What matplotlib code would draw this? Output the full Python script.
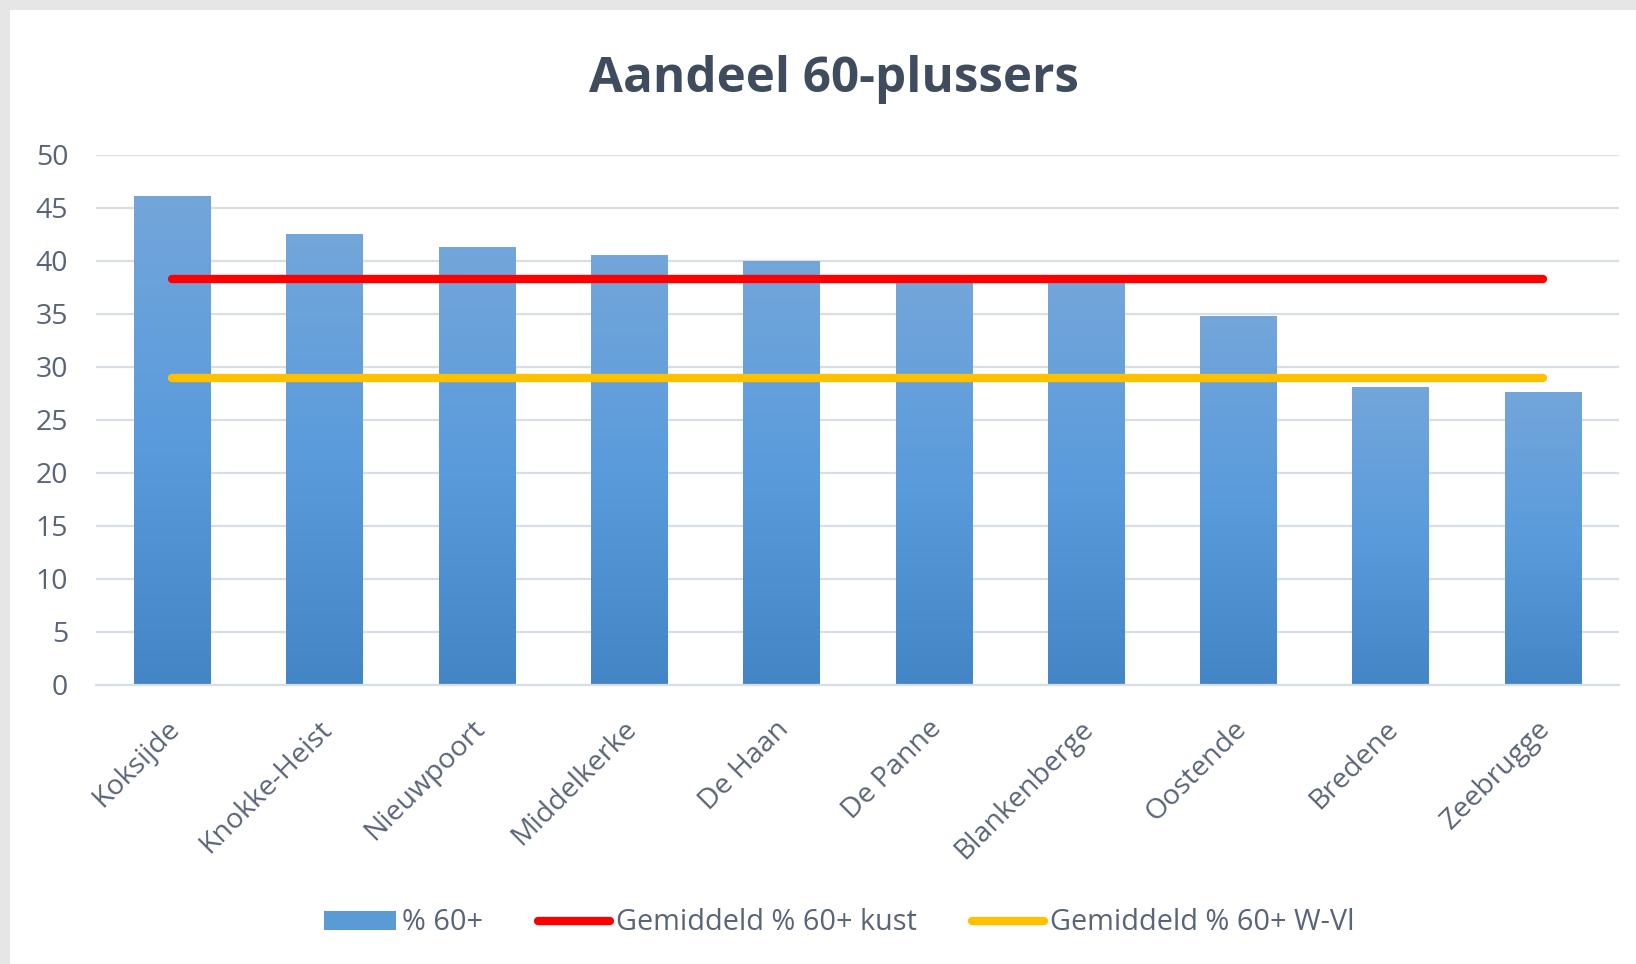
import numpy as np
import matplotlib
matplotlib.use("Agg")
import matplotlib.pyplot as plt
import matplotlib.transforms as mtransforms
from matplotlib.colors import LinearSegmentedColormap
from matplotlib.patches import Patch, Rectangle
from matplotlib.lines import Line2D

# Chart data
Gemeenten = ["Koksijde", "Knokke-Heist", "Nieuwpoort", "Middelkerke", "De Haan",
             "De Panne", "Blankenberge", "Oostende", "Bredene", "Zeebrugge"]
Pct60 = [46.1, 42.5, 41.3, 40.5, 40.0, 38.1, 38.2, 34.8, 28.1, 27.6]
GemKust = [38.3] * 10
GemWVl = [28.9] * 10
YTicks = [0, 5, 10, 15, 20, 25, 30, 35, 40, 45, 50]

TextColor = "#596577"
GridColor = "#d9dee5"
plt.rcParams["font.family"] = ["Open Sans", "DejaVu Sans"]

fig = plt.figure(figsize=(16.36, 9.64), dpi=100)
fig.patch.set_facecolor("#e6e6e6")
# white chart area inside the grey frame
fig.patches.append(Rectangle((10 / 1636, 0), 1, 1 - 10 / 964, transform=fig.transFigure,
                             facecolor="white", edgecolor="none", zorder=-10))

ax = fig.add_axes([96 / 1636, 1 - 684.5 / 964, 1523 / 1636, 530 / 964])
ax.set_facecolor("none")

x = np.arange(len(Gemeenten))
Bars = ax.bar(x, Pct60, width=0.5, color="none", edgecolor="none", zorder=2)

# gradient fill for each bar, light on top, darker at the bottom
Cmap = LinearSegmentedColormap.from_list("bar", ["#4485c6", "#5a9bdc", "#73a6da"])
Grad = np.linspace(0, 1, 256).reshape(-1, 1)
for b in Bars:
    x0, y0 = b.get_x(), b.get_y()
    w, h = b.get_width(), b.get_height()
    im = ax.imshow(Grad, cmap=Cmap, origin="lower", aspect="auto",
                   extent=(x0, x0 + w, y0, y0 + h), zorder=2)
    im.set_clip_path(b)

ax.plot(x, GemKust, color="#ff0000", lw=6, solid_capstyle="round", zorder=3)
ax.plot(x, GemWVl, color="#ffc000", lw=6, solid_capstyle="round", zorder=3)

ax.set_xlim(-0.5, len(Gemeenten) - 0.5)
ax.set_ylim(0, 50)
ax.set_yticks(YTicks)
ax.set_xticks(x)
ax.set_xticklabels(Gemeenten, rotation=45, ha="right", va="top", rotation_mode="anchor")
ax.tick_params(axis="both", length=0, labelsize=20.5, labelcolor=TextColor)
ax.tick_params(axis="y", pad=20)
ax.tick_params(axis="x", pad=22)
# nudge the slanted labels a little to the left
Shift = mtransforms.ScaledTranslation(-6 / 100, 0, fig.dpi_scale_trans)
for lab in ax.get_xticklabels():
    lab.set_transform(lab.get_transform() + Shift)

ax.grid(axis="y", color=GridColor, lw=1.6, zorder=0)
ax.set_axisbelow(True)
for s in ["top", "right", "left"]:
    ax.spines[s].set_visible(False)
ax.spines["bottom"].set_color(GridColor)
ax.spines["bottom"].set_linewidth(1.6)

fig.text(0.51, 1 - 79 / 964, "Aandeel 60-plussers", ha="center", va="center",
         fontsize=35.5, fontweight="bold", color="#3f4c5e")

Handles = [Patch(facecolor="#5b9bd5", edgecolor="none"),
           Line2D([], [], color="#ff0000", lw=6, solid_capstyle="round"),
           Line2D([], [], color="#ffc000", lw=6, solid_capstyle="round")]
Labels = ["% 60+", "Gemiddeld % 60+ kust", "Gemiddeld % 60+ W-Vl"]
leg = fig.legend(Handles, Labels, loc="center", bbox_to_anchor=(0.513, 1 - 923 / 964),
                 ncol=3, frameon=False, fontsize=20.8, handlelength=2.48,
                 handleheight=0.65, handletextpad=0.2, columnspacing=1.92)
for t in leg.get_texts():
    t.set_color(TextColor)

fig.savefig("out.png", dpi=100, facecolor=fig.get_facecolor())
